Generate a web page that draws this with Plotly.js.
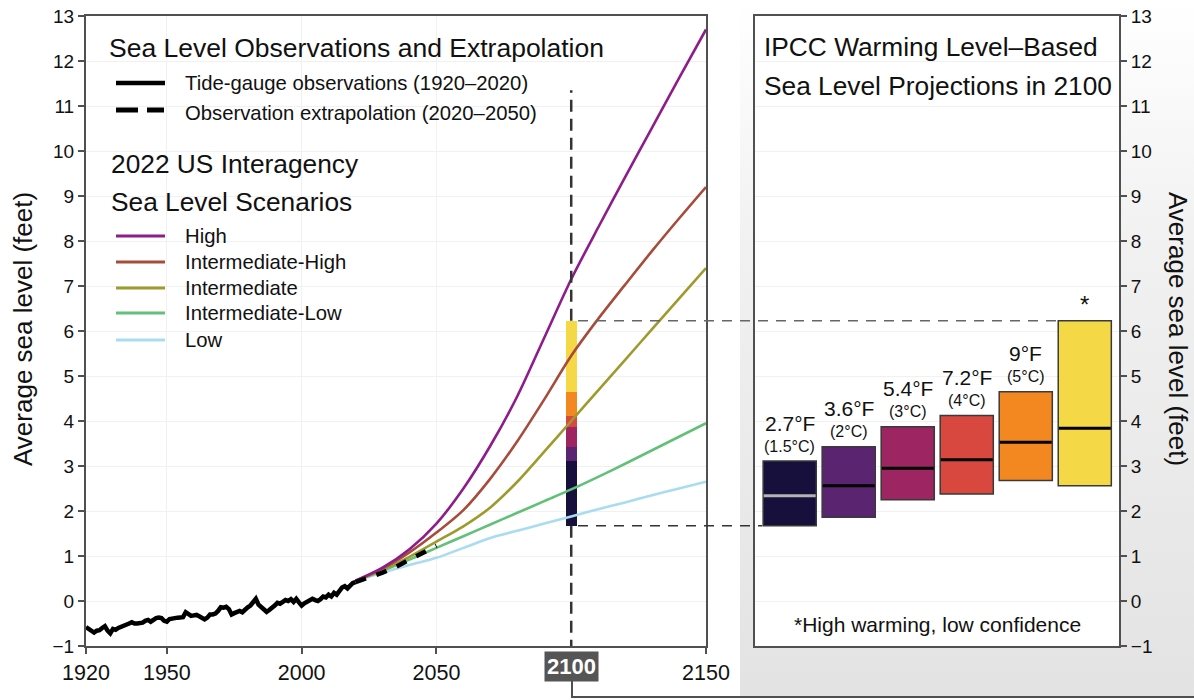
<!DOCTYPE html>
<html><head><meta charset="utf-8">
<script src="https://cdn.plot.ly/plotly-3.0.1.min.js"></script>
<style>html,body{margin:0;padding:0;background:#fff;}#chart{width:1194px;height:700px;}</style>
</head><body><div id="chart"></div>
<script>
// ---------- DATA ----------
const obsYears = [1920,1921,1922,1923,1924,1925,1926,1927,1928,1929,
  1930,1931,1932,1933,1934,1935,1936,1937,1938,1939,
  1940,1941,1942,1943,1944,1945,1946,1947,1948,1949,
  1950,1951,1952,1953,1954,1955,1956,1957,1958,1959,
  1960,1961,1962,1963,1964,1965,1966,1967,1968,1969,
  1970,1971,1972,1973,1974,1975,1976,1977,1978,1979,
  1980,1981,1982,1983,1984,1985,1986,1987,1988,1989,
  1990,1991,1992,1993,1994,1995,1996,1997,1998,1999,
  2000,2001,2002,2003,2004,2005,2006,2007,2008,2009,
  2010,2011,2012,2013,2014,2015,2016,2017,2018,2019,2020];
const obsValues = [-0.58,-0.63,-0.68,-0.70,-0.66,-0.65,-0.60,-0.56,-0.66,-0.72,
  -0.62,-0.64,-0.60,-0.58,-0.55,-0.52,-0.50,-0.47,-0.50,-0.50,
  -0.49,-0.48,-0.44,-0.42,-0.46,-0.41,-0.38,-0.37,-0.38,-0.44,
  -0.46,-0.40,-0.38,-0.38,-0.37,-0.36,-0.36,-0.25,-0.30,-0.33,
  -0.32,-0.31,-0.34,-0.38,-0.41,-0.37,-0.30,-0.30,-0.28,-0.22,
  -0.14,-0.15,-0.13,-0.18,-0.30,-0.27,-0.23,-0.22,-0.25,-0.18,
  -0.14,-0.10,-0.04,0.05,-0.08,-0.14,-0.17,-0.24,-0.20,-0.16,
  -0.10,-0.04,-0.06,-0.02,0.02,0.00,0.04,-0.02,0.05,-0.03,
  -0.10,-0.05,-0.02,0.03,0.05,0.02,0.00,0.04,0.10,0.08,
  0.14,0.10,0.18,0.14,0.22,0.30,0.33,0.28,0.34,0.40,0.42];
const extrapYears = [2020,2025,2030,2035,2040,2045,2050];
const extrapValues = [0.42,0.52,0.63,0.76,0.91,1.06,1.23];

const scenarioYears = [2020,2030,2040,2050,2060,2070,2080,2090,2100,2110,2120,2130,2140,2150];
const scenarioNames = ['High','Intermediate-High','Intermediate','Intermediate-Low','Low'];
const scenarioColors = ['#8d1d8a','#a74c3a','#9f9a2c','#63c079','#a9dcf0'];
const highValues    = [0.45,0.74,1.15,1.72,2.50,3.45,4.55,5.85,7.15,8.30,9.42,10.52,11.62,12.70];
const intHighValues = [0.45,0.72,1.08,1.52,2.02,2.72,3.55,4.48,5.45,6.27,7.03,7.78,8.50,9.20];
const interValues   = [0.45,0.69,0.98,1.32,1.66,2.08,2.65,3.32,4.00,4.68,5.36,6.04,6.72,7.40];
const intLowValues  = [0.45,0.67,0.92,1.18,1.44,1.70,1.96,2.22,2.48,2.76,3.05,3.35,3.65,3.95];
const lowValues     = [0.45,0.63,0.80,0.96,1.18,1.40,1.56,1.72,1.88,2.04,2.19,2.35,2.50,2.65];
const scenarioSeries = [highValues,intHighValues,interValues,intLowValues,lowValues];

const warmingF = ['2.7°F','3.6°F','5.4°F','7.2°F','9°F',''];
const warmingC = ['(1.5°C)','(2°C)','(3°C)','(4°C)','(5°C)',''];
const boxNotes = ['','','','','','*'];
const boxLow    = [1.67,1.86,2.25,2.38,2.68,2.56];
const boxMedian = [2.34,2.56,2.95,3.14,3.53,3.84];
const boxHigh   = [3.11,3.43,3.87,4.12,4.65,6.23];
const boxColors = ['#170f3c','#5a2470','#9c2562','#d9483f','#f48820','#f5d845'];
const medianColors = ['#b3b3b3','#000000','#000000','#000000','#000000','#000000'];
const projectionYear = 2100;
const xTicks = [1920,1950,2000,2050,2150];

// ---------- LAYOUT HELPERS ----------
const W = 1194, H = 700;
const px = v => v / W;
const py = v => 1 - v / H;
const F = 'Liberation Sans, Arial, Helvetica, sans-serif';
const AX = '#505050';

const traces = [];
for (let i = scenarioSeries.length - 1; i >= 0; i--) {
  traces.push({x: scenarioYears, y: scenarioSeries[i], mode: 'lines', xaxis: 'x', yaxis: 'y',
    line: {color: scenarioColors[i], width: 2.6, shape: 'spline', smoothing: 0.8}, hoverinfo: 'skip'});
}
traces.push({x: obsYears, y: obsValues, mode: 'lines', xaxis: 'x', yaxis: 'y',
  line: {color: '#000', width: 4.5}, hoverinfo: 'skip'});
traces.push({x: extrapYears, y: extrapValues, mode: 'lines', xaxis: 'x', yaxis: 'y',
  line: {color: '#000', width: 4.5, dash: '11px,11px'}, hoverinfo: 'skip'});

const stackBase = [Math.min(...boxLow)].concat(boxHigh.slice(0, -1));
traces.push({type: 'bar', x: boxHigh.map(() => projectionYear), base: stackBase,
  y: boxHigh.map((h, i) => h - stackBase[i]), width: 4, xaxis: 'x', yaxis: 'y',
  marker: {color: boxColors, line: {width: 0}}, hoverinfo: 'skip'});

const boxIdx = boxLow.map((_, i) => i);
traces.push({type: 'bar', x: boxIdx, base: boxLow, y: boxHigh.map((h, i) => h - boxLow[i]),
  width: 0.9, xaxis: 'x2', yaxis: 'y2',
  marker: {color: boxColors, line: {color: '#3a3a3a', width: 1.5}}, hoverinfo: 'skip'});
boxIdx.forEach(i => {
  traces.push({x: [i - 0.44, i + 0.44], y: [boxMedian[i], boxMedian[i]], mode: 'lines',
    xaxis: 'x2', yaxis: 'y2', line: {color: medianColors[i], width: 3}, hoverinfo: 'skip'});
});

const annotations = [];
const txt = (t, x, y, size, opts) => annotations.push(Object.assign({text: t, x: px(x), y: py(y),
  xref: 'paper', yref: 'paper', xanchor: 'left', yanchor: 'middle', showarrow: false,
  font: {size: size, family: F, color: '#111'}}, opts || {}));

txt('Sea Level Observations and Extrapolation', 107, 48, 26.5);
txt('Tide-gauge observations (1920–2020)', 183, 83, 20.3);
txt('Observation extrapolation (2020–2050)', 183, 113, 20.3);
txt('2022 US Interagency', 109, 164, 26.3);
txt('Sea Level Scenarios', 109, 202, 26.3);
const legendY = [236, 262, 288, 313, 340];
scenarioNames.forEach((n, i) => txt(n, 183, legendY[i], 20.3));
txt('IPCC Warming Level–Based', 762, 47.5, 26.3);
txt('Sea Level Projections in 2100', 762, 86, 26.3);
txt('*High warming, low confidence', 937, 624, 21, {xanchor: 'center'});
txt('Average sea level (feet)', 23, 329, 26, {xanchor: 'center', textangle: -90});
txt('Average sea level (feet)', 1178, 329, 26, {xanchor: 'center', textangle: 90});

boxIdx.forEach(i => {
  if (warmingF[i]) {
    annotations.push({text: warmingF[i], x: i, y: boxHigh[i], xref: 'x2', yref: 'y2', showarrow: false,
      yanchor: 'middle', yshift: 38, font: {size: 21, family: F, color: '#111'}});
    annotations.push({text: warmingC[i], x: i, y: boxHigh[i], xref: 'x2', yref: 'y2', showarrow: false,
      yanchor: 'middle', yshift: 15, font: {size: 16, family: F, color: '#111'}});
  }
  if (boxNotes[i]) {
    annotations.push({text: boxNotes[i], x: i, y: boxHigh[i], xref: 'x2', yref: 'y2', showarrow: false,
      yanchor: 'middle', yshift: 16, font: {size: 24, family: F, color: '#111'}});
  }
});
annotations.push({text: '<b>' + projectionYear + '</b>', x: projectionYear, xref: 'x', y: py(666), yref: 'paper',
  showarrow: false, yanchor: 'middle', bgcolor: '#555555', borderpad: 2,
  font: {size: 22, family: F, color: '#ffffff'}});

const shapes = [];
// white panel face over the grey backdrop (paper layer, beneath gridlines)
shapes.push({type: 'rect', xref: 'paper', yref: 'paper', x0: px(755), x1: px(1119), y0: py(646), y1: py(16),
  fillcolor: '#ffffff', line: {width: 0}, layer: 'below'});
const pline = (x0, y0, x1, y1, color, width, dash) => shapes.push({type: 'line', xref: 'paper', yref: 'paper',
  x0: px(x0), y0: py(y0), x1: px(x1), y1: py(y1), line: {color: color, width: width, dash: dash || 'solid'}, layer: 'above'});
// legend swatches
pline(116, 83, 165, 83, '#000', 4.5);
pline(116, 110, 164, 110, '#000', 5, '22px,9px');
scenarioColors.forEach((c, i) => pline(116, legendY[i], 165, legendY[i], c, 3));
// bracket
pline(572, 681, 572, 697, '#505050', 2);
pline(571, 697, 1194, 697, '#505050', 2.2);
// 2100 reference dashes
const topProj = Math.max(...boxHigh), botProj = Math.min(...boxLow);
shapes.push({type: 'line', xref: 'x', yref: 'y', x0: projectionYear, x1: projectionYear, y0: topProj, y1: 11.35,
  line: {color: '#333', width: 2.5, dash: '12px,7px'}, layer: 'above'});
shapes.push({type: 'line', xref: 'x', yref: 'y', x0: projectionYear, x1: projectionYear, y0: botProj, y1: -1.2,
  line: {color: '#333', width: 2.5, dash: '12px,7px'}, layer: 'above'});
shapes.push({type: 'line', xref: 'paper', yref: 'y', x0: px(578), x1: px(1058), y0: topProj, y1: topProj,
  line: {color: '#666', width: 1.5, dash: '10px,8px'}, layer: 'above'});
shapes.push({type: 'line', xref: 'paper', yref: 'y', x0: px(578), x1: px(762), y0: botProj, y1: botProj,
  line: {color: '#333', width: 1.5, dash: '10px,8px'}, layer: 'above'});

const grad = "<svg xmlns='http://www.w3.org/2000/svg' width='100' height='100' preserveAspectRatio='none'>" +
  "<defs><linearGradient id='g' x1='0' y1='0' x2='0' y2='1'><stop offset='0' stop-color='#ffffff'/>" +
  "<stop offset='0.35' stop-color='#f1f1f1'/><stop offset='1' stop-color='#e3e3e3'/></linearGradient></defs>" +
  "<rect width='100' height='100' fill='url(#g)'/></svg>";

const Y0 = py(646), Y1 = py(16);
const yCommon = {range: [-1, 13], dtick: 1, tick0: 0, showline: true, linecolor: AX, linewidth: 2, mirror: true,
  ticks: 'outside', ticklen: 6, tickwidth: 2, tickcolor: AX, tickfont: {size: 19, family: F, color: '#111'},
  showgrid: true, gridcolor: '#f1f1f1', gridwidth: 1, zeroline: false, domain: [Y0, Y1], fixedrange: true};

const layout = {
  width: W, height: H, margin: {l: 0, r: 0, t: 0, b: 0},
  paper_bgcolor: '#ffffff', plot_bgcolor: '#ffffff', showlegend: false,
  font: {family: F, color: '#111'},
  xaxis: {domain: [px(86), px(706)], range: [1920, 2150], tickvals: xTicks, showline: true, linecolor: AX,
    linewidth: 2, mirror: true, ticks: 'outside', ticklen: 6, tickwidth: 2, tickcolor: AX,
    tickfont: {size: 21.5, family: F, color: '#111'}, showgrid: true, gridcolor: '#f1f1f1', zeroline: false,
    anchor: 'y', fixedrange: true},
  yaxis: Object.assign({}, yCommon, {anchor: 'x'}),
  xaxis2: {domain: [px(755), px(1119)], range: [-0.588, 5.58], showline: true, linecolor: AX, linewidth: 2,
    mirror: true, showticklabels: false, ticks: '', showgrid: false, zeroline: false, anchor: 'y2', fixedrange: true},
  yaxis2: Object.assign({}, yCommon, {anchor: 'x2', side: 'right'}),
  annotations: annotations,
  shapes: shapes,
  images: [{source: 'data:image/svg+xml;charset=utf-8,' + encodeURIComponent(grad), xref: 'paper', yref: 'paper',
    x: px(740), y: 1, sizex: px(454), sizey: 697 / H, xanchor: 'left', yanchor: 'top', sizing: 'stretch', layer: 'below'}],
  bargap: 0
};

Plotly.newPlot('chart', traces, layout, {displayModeBar: false, staticPlot: true});
</script></body></html>
